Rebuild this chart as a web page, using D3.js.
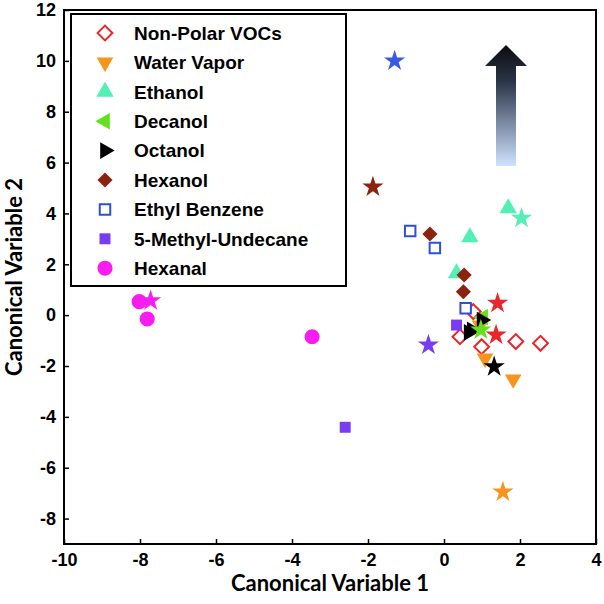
<!DOCTYPE html>
<html><head><meta charset="utf-8">
<script src="https://cdn.jsdelivr.net/npm/d3@7"></script>
<style>body{margin:0;background:#fff}svg{display:block}</style>
</head><body>
<svg id="c" width="604" height="604"></svg>
<script>
// ---- data ----
const seriesNames = ["Non-Polar VOCs","Water Vapor","Ethanol","Decanol","Octanol","Hexanol","Ethyl Benzene","5-Methyl-Undecane","Hexanal"];
const nonPolar = [[0.77,0.14],[0.42,-0.85],[0.99,-1.24],[1.89,-1.04],[2.54,-1.11]];
const waterVapor = [[0.95,-0.40],[1.08,-1.70],[1.82,-2.52]];
const ethanol = [[1.69,4.20],[0.68,3.06],[0.33,1.65]];
const decanol = [[1.03,-0.08]];
const octanol = [[0.99,-0.19],[0.73,-0.58],[0.65,-0.68]];
const hexanol = [[-0.37,3.19],[0.53,1.58],[0.51,0.92]];
const ethylBenzene = [[-0.89,3.31],[-0.24,2.64],[0.57,0.27]];
const methylUndecane = [[-2.60,-4.41],[0.33,-0.39]];
const hexanal = [[-8.02,0.53],[-7.81,-0.15],[-3.47,-0.85]];
// star markers (one list per class)
const starNonPolar = [[1.41,0.47],[1.37,-0.78]];
const starWater = [[1.55,-6.95]];
const starEthanol = [[2.04,3.81]];
const starDecanol = [[0.97,-0.58]];
const starOctanol = [[1.32,-2.03]];
const starHexanol = [[-1.87,5.04]];
const starEthyl = [[-1.30,10.00]];
const starMethyl = [[-0.41,-1.17]];
const starHexanal = [[-7.72,0.57]];
const xTicks = [-10,-8,-6,-4,-2,0,2,4];
const yTicks = [-8,-6,-4,-2,0,2,4,6,8,10,12];

// ---- setup ----
const svg = d3.select("#c");
const L=64,R=596,T=10,B=544;
const x = d3.scaleLinear().domain([-10,4]).range([L,R]);
const y = d3.scaleLinear().domain([-9,12]).range([B,T]);

const colors = {np:"#e8262b", wv:"#f7941d", et:"#52f0b4", de:"#62e01c", oc:"#000000", hx:"#8b2311", eb:"#2f4fd8", mu:"#7a3cf2", ha:"#f81cf0"};

// arrow with gradient
const defs = svg.append("defs");
const g = defs.append("linearGradient").attr("id","ag").attr("x1",0).attr("y1",0).attr("x2",0).attr("y2",1);
g.append("stop").attr("offset","0%").attr("stop-color","#0c0c10");
g.append("stop").attr("offset","30%").attr("stop-color","#2a3448");
g.append("stop").attr("offset","100%").attr("stop-color","#cfe2ff");
const ax = 506;
svg.append("path").attr("fill","url(#ag)")
  .attr("d",`M${ax},45 L${ax+21},66 L${ax+10},66 L${ax+10},166 L${ax-10},166 L${ax-10},66 L${ax-21},66 Z`);

// axes box
const fmt = d => String(d);
const axG = svg.append("g");
axG.append("g").attr("transform",`translate(0,${B})`)
  .call(d3.axisBottom(x).tickValues(xTicks).tickSize(-5).tickPadding(9).tickFormat(fmt));
axG.append("g").attr("transform",`translate(${L},0)`)
  .call(d3.axisLeft(y).tickValues(yTicks).tickSize(-5).tickPadding(8).tickFormat(fmt));
axG.selectAll(".domain").remove();
axG.selectAll(".tick line").attr("stroke","#000").attr("stroke-width",1.5);
axG.selectAll(".tick text").attr("font-family","Liberation Sans, Arial, sans-serif").attr("font-weight","bold").attr("font-size",18).attr("fill","#000");
svg.append("rect").attr("x",L).attr("y",T).attr("width",R-L).attr("height",B-T).attr("fill","none").attr("stroke","#000").attr("stroke-width",2);

// symbol helpers
function sym(type,size){return d3.symbol().type(type).size(size)();}
const shapes = {
  diamond: {d:sym(d3.symbolSquare,110), rot:45},
  tdown: {d:sym(d3.symbolTriangle,120), rot:180},
  tup: {d:sym(d3.symbolTriangle,130), rot:0},
  tleft: {d:sym(d3.symbolTriangle,120), rot:-90},
  tright: {d:sym(d3.symbolTriangle,120), rot:90},
  fdiamond: {d:sym(d3.symbolSquare,115), rot:45},
  square: {d:sym(d3.symbolSquare,110), rot:0},
  fsquare: {d:sym(d3.symbolSquare,120), rot:0},
  circle: {d:sym(d3.symbolCircle,180), rot:0}
};
const series = [
  {name:seriesNames[0], data:nonPolar, shape:"diamond", fill:"#fff", stroke:colors.np, stars:starNonPolar},
  {name:seriesNames[1], data:waterVapor, shape:"tdown", fill:colors.wv, stroke:"none", stars:starWater},
  {name:seriesNames[2], data:ethanol, shape:"tup", fill:colors.et, stroke:"none", stars:starEthanol},
  {name:seriesNames[3], data:decanol, shape:"tleft", fill:colors.de, stroke:"none", stars:starDecanol},
  {name:seriesNames[4], data:octanol, shape:"tright", fill:colors.oc, stroke:"none", stars:starOctanol},
  {name:seriesNames[5], data:hexanol, shape:"fdiamond", fill:colors.hx, stroke:"none", stars:starHexanol},
  {name:seriesNames[6], data:ethylBenzene, shape:"square", fill:"#fff", stroke:colors.eb, stars:starEthyl},
  {name:seriesNames[7], data:methylUndecane, shape:"fsquare", fill:colors.mu, stroke:"none", stars:starMethyl},
  {name:seriesNames[8], data:hexanal, shape:"circle", fill:colors.ha, stroke:"none", stars:starHexanal}
];
const starColor = [colors.np,colors.wv,colors.et,colors.de,colors.oc,colors.hx,"#3a5ae6",colors.mu,colors.ha];

const pts = svg.append("g");
series.forEach(s=>{
  const sh = shapes[s.shape];
  pts.selectAll(null).data(s.data).enter().append("path")
    .attr("d",sh.d)
    .attr("transform",d=>`translate(${x(d[0])},${y(d[1])}) rotate(${sh.rot})`)
    .attr("fill",s.fill).attr("stroke",s.stroke).attr("stroke-width",2);
});
const starPath = sym(d3.symbolStar,140);
series.forEach((s,i)=>{
  pts.selectAll(null).data(s.stars).enter().append("path")
    .attr("d",starPath)
    .attr("transform",d=>`translate(${x(d[0])},${y(d[1])})`)
    .attr("fill",starColor[i]);
});

// legend
const lg = svg.append("g");
lg.append("rect").attr("x",71).attr("y",14).attr("width",275).attr("height",272).attr("fill","#fff").attr("stroke","#000").attr("stroke-width",2);
series.forEach((s,i)=>{
  const cy = 33 + i*29.4;
  const sh = shapes[s.shape];
  lg.append("path").attr("d",sh.d).attr("transform",`translate(105,${cy}) rotate(${sh.rot})`)
    .attr("fill",s.fill).attr("stroke",s.stroke).attr("stroke-width",2);
  lg.append("text").attr("x",134).attr("y",cy).attr("dy","0.36em")
    .attr("font-family","Liberation Sans, Arial, sans-serif").attr("font-weight","bold").attr("font-size",19)
    .attr("textLength", null)
    .text(s.name);
});

// axis titles
svg.append("text").attr("x",(L+R)/2).attr("y",591).attr("text-anchor","middle")
  .attr("font-family","Lato, Open Sans, sans-serif").attr("font-weight","bold").attr("font-size",22).text("Canonical Variable 1");
svg.append("text").attr("transform",`translate(22,${(T+B)/2}) rotate(-90)`).attr("text-anchor","middle")
  .attr("font-family","Lato, Open Sans, sans-serif").attr("font-weight","bold").attr("font-size",22).text("Canonical Variable 2");
</script>
</body></html>
